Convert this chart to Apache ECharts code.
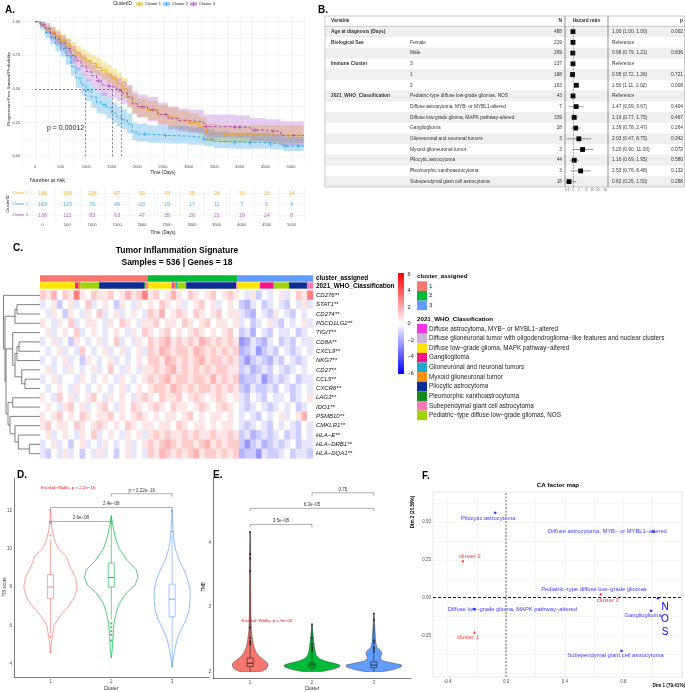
<!DOCTYPE html>
<html>
<head>
<meta charset="utf-8">
<title>Immune clusters</title>
<script src="https://cdn.jsdelivr.net/npm/echarts@6.0.0/dist/echarts.min.js"></script>
<style>
  html, body { margin: 0; padding: 0; background: #ffffff; }
  #chart { width: 685px; height: 692px; }
</style>
</head>
<body>
<div id="chart"></div>
<script>
var FONT = '"Liberation Sans", Arial, Helvetica, sans-serif';
var T = 'rgba(0,0,0,0)';

// ---- A. Kaplan-Meier curves ----
var kmTime1 = [0,100,200,300,400,500,600,700,800,900,1000,1100,1200,1300,1400,1500,1600,1700,1800,1900,2000,2200,2400,2600,2800,3000,3200,3350,3600,3900,5250];
var kmSurv1 = [1,0.98,0.95,0.92,0.89,0.86,0.83,0.79,0.76,0.73,0.71,0.69,0.66,0.64,0.61,0.58,0.54,0.50,0.44,0.39,0.36,0.34,0.31,0.29,0.27,0.25,0.22,0.17,0.16,0.155,0.155];
var kmLow1  = [1,0.96,0.92,0.88,0.85,0.81,0.78,0.74,0.70,0.67,0.65,0.62,0.60,0.57,0.54,0.51,0.47,0.43,0.37,0.32,0.29,0.27,0.24,0.22,0.20,0.18,0.16,0.11,0.10,0.10,0.09];
var kmHigh1 = [1,1,0.98,0.96,0.94,0.91,0.88,0.85,0.82,0.79,0.77,0.75,0.73,0.70,0.68,0.65,0.62,0.58,0.52,0.46,0.43,0.41,0.38,0.36,0.34,0.32,0.29,0.24,0.23,0.23,0.24];

var kmTime2 = [0,100,200,300,400,500,600,700,800,900,1000,1100,1200,1300,1400,1500,1600,1700,1800,1900,2000,2200,2600,3000,3300,3500,3800,4600,4850,5250];
var kmSurv2 = [1,0.97,0.92,0.88,0.84,0.80,0.75,0.67,0.58,0.53,0.49,0.44,0.40,0.385,0.36,0.32,0.29,0.27,0.24,0.18,0.165,0.155,0.15,0.14,0.125,0.11,0.10,0.09,0.075,0.075];
var kmLow2  = [1,0.94,0.88,0.83,0.78,0.74,0.68,0.60,0.51,0.45,0.41,0.36,0.32,0.31,0.28,0.25,0.22,0.20,0.17,0.12,0.11,0.10,0.095,0.085,0.075,0.06,0.055,0.05,0.04,0.04];
var kmHigh2 = [1,1,0.96,0.93,0.90,0.87,0.82,0.75,0.66,0.61,0.57,0.52,0.48,0.47,0.44,0.40,0.37,0.35,0.32,0.25,0.24,0.23,0.225,0.215,0.20,0.185,0.175,0.165,0.145,0.145];

var kmTime3 = [0,100,200,300,400,500,600,700,800,900,1000,1100,1200,1300,1400,1500,1600,1700,1800,1900,2000,2200,2400,2600,2800,3000,3300,3900,4200,4500,4800,5250];
var kmSurv3 = [1,0.98,0.95,0.91,0.87,0.84,0.80,0.75,0.71,0.67,0.63,0.60,0.56,0.53,0.52,0.51,0.49,0.47,0.44,0.39,0.37,0.345,0.31,0.28,0.265,0.255,0.22,0.215,0.195,0.185,0.155,0.155];
var kmLow3  = [1,0.96,0.91,0.86,0.82,0.78,0.74,0.69,0.64,0.60,0.56,0.52,0.48,0.45,0.44,0.43,0.41,0.39,0.36,0.31,0.29,0.26,0.23,0.20,0.185,0.175,0.14,0.135,0.115,0.105,0.08,0.08];
var kmHigh3 = [1,1,0.99,0.96,0.93,0.90,0.87,0.82,0.78,0.75,0.71,0.68,0.64,0.62,0.61,0.60,0.58,0.56,0.53,0.48,0.46,0.44,0.40,0.37,0.355,0.345,0.31,0.305,0.285,0.275,0.26,0.26];

var censor1 = [2100,2650,3050,3400,3700,4000,4300,4650,4950,5150];
var censor2 = [1350,2150,2550,3300,3450,3900,4200,4600,4900,5150];
var censor3 = [1250,1450,2100,2300,2550,3350,3900,4000,4300,4650,5050];
var medianDays = [1680, 990, 1516];
var clusterNames = ['Cluster 1', 'Cluster 2', 'Cluster 3'];

var riskTimes = [0,500,1000,1500,2000,2500,3000,3500,4000,4500,5000];
var riskCluster1 = [188,156,128,97,59,43,35,24,19,16,14];
var riskCluster2 = [163,125,79,46,23,19,17,11,7,6,4];
var riskCluster3 = [138,111,83,63,47,35,26,21,19,14,8];

// ---- B. Cox model ----
var forestGroup = ['Age at diagnosis (Days)','Biological Sex','','Immune Cluster','','','2021_WHO_Classification','','','','','','','',''];
var forestLevel = ['','Female','Male','3','1','2','Pediatric-type diffuse low-grade gliomas, NOS','Diffuse astrocytoma, MYB- or MYBL1-altered','Diffuse low-grade glioma, MAPK pathway-altered','Ganglioglioma','Glioneuronal and neuronal tumors','Myxoid glioneuronal tumor','Pilocytic astrocytoma','Pleomorphic xanthoastrocytoma','Subependymal giant cell astrocytoma'];
var forestN  = [488,219,269,137,188,163,43,7,339,28,3,3,44,3,18];
var forestHR = [1.00,1,0.98,1,0.95,1.50,1,1.47,1.16,1.39,2.03,3.20,1.16,2.53,0.62];
var forestLo = [1.00,null,0.79,null,0.72,1.11,null,0.59,0.77,0.78,0.47,0.90,0.69,0.76,0.25];
var forestHi = [1.00,null,1.21,null,1.26,2.02,null,3.67,1.75,2.47,8.75,11.33,1.95,8.48,1.50];
var forestP  = ['0.002','','0.836','','0.721','0.008','','0.404','0.467','0.264','0.342','0.072','0.580','0.132','0.288'];
var forestTicks = [0.5,1,2,5,10,20,50];

// ---- C. Heatmap ----
var geneNames = ['CD276**','STAT1**','CD274**','PDCD1LG2**','TIGIT**','CD8A**','CXCL9**','NKG7**','CD27**','CCL5**','CXCR6**','LAG3**','IDO1**','PSMB10**','CMKLR1**','HLA\u2212E**','HLA\u2212DRB1**','HLA\u2212DQA1**'];
// 48 column blocks: 19 (cluster 1) | 16 (cluster 2) | 13 (cluster 3)
var tisHeat = [
  [1.2,0.6,1.8,0,1.2, 0.6,3,0.6,0,1.2, 0.6,0.6,1.2,0,0.6, 1.8,0.6,1.2,3,  0.6,1.2,0,0.6,1.8, 0.6,0,1.2,0.6,0, 0.6,1.2,0,0.6,1.2, 0.6,  0,-0.6,0.6,-1.2,0, -0.6,0,0.6,-0.6,0, 1.2,0.6,3],
  [-0.6,0,0.6,-1.2,0, 0.6,-0.6,0,1.2,-0.6, 0,0.6,0,-1.2,0.6, 0,-0.6,0.6,0,  0.6,0,1.2,0.6,0, 0.6,-0.6,0,0.6,1.2, 0,0.6,-0.6,0,0.6, 0,  -1.2,-1.8,-0.6,0,-1.2, -0.6,0,-0.6,-1.2,0, -0.6,0.6,-0.6],
  [0,-0.6,0.6,0,-1.2, 0.6,0,-0.6,0.6,0, 1.2,-0.6,0,0.6,-0.6, 0,0.6,0,-0.6,  1.2,0.6,1.8,0,0.6, 1.2,0.6,0,1.2,0.6, 0,0.6,1.2,0,0.6, 0.6,  -0.6,-1.2,-1.8,0,-0.6, -1.2,0.6,0,-0.6,-1.2, 0,-0.6,0],
  [0.6,0,-0.6,0.6,0, 1.2,-0.6,0,0.6,0.6, 0,-0.6,0.6,0,1.2, 0.6,0,-0.6,0.6,  0.6,1.2,0,0.6,0.6, 0,1.2,0.6,0,0.6, 1.2,0,0.6,0.6,0, 0.6,  -0.6,0,-1.2,-0.6,0, 0.6,-0.6,-1.2,0,-0.6, 0,0.6,-0.6],
  [0,0.6,-0.6,0,0.6, 0,1.2,-0.6,0,0.6, 0,-0.6,0,0.6,0, -0.6,0.6,0,1.2,  0.6,0,0.6,1.2,0, 0.6,0,0.6,1.2,0.6, 0,0.6,0,0.6,1.2, 0,  -1.2,-0.6,-1.8,0,-0.6, -1.2,0,-0.6,-0.6,0, -1.2,-0.6,0],
  [-0.6,0,0.6,-0.6,0, -1.2,0.6,0,-0.6,0, 0.6,-0.6,0,1.2,-0.6, 0,-0.6,0.6,0,  1.2,0.6,1.2,1.8,0.6, 1.2,0.6,1.2,0.6,1.8, 1.2,0.6,1.2,0.6,1.2, 0.6,  -2.4,-1.8,-0.6,-1.2,-1.8, -0.6,0,-1.2,-0.6,-1.2, 0,-0.6,-0.6],
  [0,-0.6,0,0.6,-0.6, 0,-0.6,1.2,0,-0.6, 0,0.6,-0.6,0,0.6, -0.6,0,0.6,-0.6,  1.2,0.6,1.8,1.2,0.6, 1.2,1.2,0.6,1.8,1.2, 0.6,1.2,0.6,1.2,0.6, 1.2,  -1.8,-1.2,-0.6,-2.4,-1.2, -0.6,-1.2,0,-0.6,-1.2, -0.6,0,-0.6],
  [-0.6,0,-0.6,0,0.6, -0.6,0,-1.2,0.6,0, -0.6,0,0.6,-0.6,0, -0.6,0,0.6,0,  1.2,1.2,0.6,1.8,1.2, 0.6,1.2,0.6,1.2,1.8, 0.6,1.2,1.2,0.6,1.2, 0.6,  -1.2,-2.4,-1.2,-0.6,-1.2, -1.8,-0.6,-1.2,0,-0.6, -1.2,-0.6,0],
  [0,0.6,-0.6,0,-0.6, 0.6,0,-0.6,0,0.6, -0.6,0,1.2,0,-0.6, 0.6,0,-0.6,0.6,  0.6,1.2,0.6,1.2,1.8, 0.6,1.2,0.6,1.2,0.6, 1.2,0.6,1.2,1.2,0.6, 0.6,  -1.2,-0.6,-1.8,-1.2,-0.6, -1.2,0,-0.6,-1.2,-0.6, 0,-0.6,0],
  [-0.6,0,0.6,-0.6,0, 0,-0.6,0.6,0,-0.6, 0,0.6,0,-0.6,0.6, 0,-0.6,0,0.6,  1.2,0.6,1.2,1.8,0.6, 1.2,1.2,0.6,1.2,1.2, 0.6,1.8,0.6,1.2,0.6, 1.2,  -1.8,-1.2,-1.2,-0.6,-2.4, -1.2,-0.6,-1.2,-0.6,0, -1.2,-0.6,-0.6],
  [0,-0.6,0,0.6,0, -0.6,0.6,0,-0.6,0, 0.6,0,-0.6,0,0.6, -0.6,0,0.6,0,  0.6,1.2,1.2,0.6,1.8, 1.2,0.6,1.2,0.6,1.2, 1.2,0.6,1.2,0.6,1.2, 0.6,  -1.2,-1.8,-0.6,-1.2,-1.2, -0.6,-1.2,0,-0.6,-1.2, -0.6,0,-0.6],
  [0.6,0,-0.6,1.2,0, 0.6,-0.6,0,0.6,1.2, 0,-0.6,0.6,0,0.6, 0,-0.6,0.6,1.2,  0.6,0,1.2,0.6,0.6, 1.2,0,0.6,1.2,0.6, 0,0.6,1.2,0.6,0, 0.6,  -0.6,-1.2,0,-0.6,-1.2, 0,-0.6,-0.6,0,-1.2, -0.6,0,0.6],
  [0,0.6,0,-0.6,0.6, 1.2,0,0.6,-0.6,0, 0.6,1.2,0,-0.6,0.6, 0,1.2,0.6,0,  0.6,1.2,0.6,0,1.2, 0.6,0.6,0,0.6,1.2, 0.6,0,0.6,1.2,0.6, 0,  -0.6,-1.2,-0.6,0,-0.6, -1.2,-0.6,0,-0.6,0, -1.2,-0.6,0],
  [0.6,0,0.6,1.2,0, 0.6,0,1.2,0.6,0, 0.6,0.6,1.2,0,0.6, 0,0.6,1.2,0.6,  0,0.6,0,0.6,0.6, 0,0.6,1.2,0,0.6, 0,0.6,0.6,0,0.6, 0,  -0.6,0,-0.6,-1.2,0, -0.6,0,0.6,-0.6,0, 0.6,1.8,0],
  [0.6,1.2,0,0.6,0.6, 0,1.2,0.6,0,0.6, 1.2,0.6,0,0.6,0, 1.2,0.6,0,0.6,  0.6,0,0.6,0.6,0, 1.2,0.6,0,0.6,0.6, 0,0.6,0,0.6,0.6, 0,  -0.6,-1.2,-0.6,0,-0.6, -1.2,0,-0.6,0,-0.6, -1.2,0,-0.6],
  [0,0.6,-0.6,0,0.6, 0,-0.6,0.6,0,1.2, -0.6,0,0.6,0,-0.6, 0.6,0,0.6,-0.6,  0.6,1.2,0.6,1.2,0.6, 0.6,1.2,0.6,1.2,0.6, 0.6,1.2,0.6,0.6,1.2, 0.6,  -1.2,-0.6,-1.8,-1.2,-0.6, -1.2,-0.6,0,-1.2,-0.6, -1.2,0,-0.6],
  [-0.6,0,0.6,-0.6,0, -1.2,0,0.6,-0.6,0, -0.6,0.6,0,-0.6,0, 0.6,-0.6,0,0.6,  1.2,0.6,1.2,1.8,1.2, 0.6,1.2,1.2,0.6,1.2, 1.8,0.6,1.2,0.6,1.2, 1.2,  -1.2,-2.4,-1.2,-0.6,-1.8, -1.2,-0.6,-1.2,-0.6,0, -1.2,-0.6,-0.6],
  [-0.6,-1.2,0,-0.6,0.6, -0.6,0,-1.2,0,-0.6, 0.6,-0.6,0,-1.2,0, 0.6,-0.6,0,-0.6,  1.2,0.6,1.8,1.2,0.6, 1.2,0.6,1.2,1.8,0.6, 1.2,1.2,0.6,1.2,0.6, 1.2,  -1.8,-1.2,-1.2,-2.4,-0.6, -1.2,-1.2,-0.6,0,-1.2, -0.6,-0.6,-1.2]
];
// row clustering: [child a, child b, merge height]; leaves 0..17, merged nodes 18+
var dendroMerges = [[9,10,15],[8,18,18.3],[5,6,21],[20,7,23],[21,19,25],[4,22,27.3],[16,17,10.7],[15,24,21.7],[14,25,25],[13,26,30],[11,12,27.3],[28,27,32],[23,29,34],[1,2,23],[31,3,25],[32,30,35],[0,33,36.5]];
var clusterSizes = [212,175,149];
var whoNames = ['Diffuse astrocytoma, MYB\u2212 or MYBL1\u2212altered','Diffuse glioneuronal tumor with oligodendroglioma\u2212like features and nuclear clusters','Diffuse low\u2212grade glioma, MAPK pathway\u2212altered','Ganglioglioma','Glioneuronal and neuronal tumors','Myxoid glioneuronal tumor','Pilocytic astrocytoma','Pleomorphic xanthoastrocytoma','Subependymal giant cell astrocytoma','Pediatric\u2212type diffuse low\u2212grade gliomas, NOS'];
var whoColors = ['#F534E1','#C8B6D8','#FFE500','#F5168A','#1CAAD0','#FF8E0A','#0C2D94','#138A1C','#FF76B6','#A2D20A'];
// WHO annotation along the samples: [class index, count]
var whoSegments = [[2,69],[3,6],[5,2],[0,2],[9,37],[6,88],[7,2],[8,6],
                   [2,47],[0,4],[5,4],[4,2],[9,18],[6,98],[8,2],
                   [2,45],[3,26],[4,2],[9,29],[6,35],[8,12]];
var heatTicks = [6,4,2,0,-2,-4,-6];

// ---- D. TIS score violins: [value, half width in axis units] ----
var tisViolin1 = [[4.6,0],[5.0,0.01],[5.4,0.03],[6.0,0.06],[6.5,0.16],[7.0,0.30],[7.5,0.40],[8.0,0.44],[8.5,0.41],[9.0,0.33],[9.6,0.26],[10.0,0.13],[10.45,0.066],[10.96,0.028],[11.5,0.011],[12.0,0]];
var tisViolin2 = [[4.3,0],[4.75,0.016],[5.4,0.028],[6.1,0.044],[6.65,0.08],[7.15,0.13],[7.7,0.25],[8.1,0.39],[8.5,0.44],[8.9,0.41],[9.4,0.26],[10.0,0.13],[10.6,0.066],[11.3,0.021],[11.74,0]];
var tisViolin3 = [[3.8,0],[4.2,0.016],[4.74,0.044],[5.26,0.082],[5.8,0.15],[6.3,0.23],[6.8,0.28],[7.33,0.295],[7.85,0.295],[8.45,0.25],[9.0,0.18],[9.4,0.115],[10.0,0.054],[10.45,0.033],[11.0,0.016],[12.0,0]];
// [cluster, q1, median, q3, whisker low, whisker high]
var tisBoxes = [[1,7.4,8.0,8.65,5.6,10.5],[2,8.0,8.5,9.25,6.3,11.7],[3,6.45,7.37,8.15,3.8,10.7]];
var tisOutliers = [[1,10.7],[1,11.4],[1,12.0],[1,5.4],[1,4.6],[2,6.1],[2,5.9],[2,5.7],[2,5.5],[2,5.2],[3,10.9],[3,12.0]];
var tisBrackets = [[1,2,11.43],[1,3,12.16],[2,3,12.88]];
var tisBracketText = ['2.6e\u221208','2.4e\u221208','p < 2.22e\u221216'];

// ---- E. TMB violins ----
var tmbViolin1 = [[2.0,0.17],[2.04,0.26],[2.09,0.29],[2.13,0.28],[2.18,0.22],[2.23,0.15],[2.29,0.1],[2.36,0.07],[2.43,0.05],[2.52,0.035],[2.65,0.02],[2.9,0.012],[3.4,0.008],[3.9,0.006],[4.16,0]];
var tmbViolin2 = [[2.0,0.16],[2.03,0.32],[2.07,0.44],[2.1,0.45],[2.13,0.36],[2.16,0.22],[2.2,0.12],[2.25,0.07],[2.32,0.05],[2.42,0.035],[2.55,0.02],[2.65,0.01],[2.73,0]];
var tmbViolin3 = [[2.0,0.15],[2.03,0.32],[2.07,0.44],[2.1,0.45],[2.13,0.32],[2.16,0.16],[2.2,0.1],[2.25,0.12],[2.29,0.13],[2.33,0.1],[2.37,0.05],[2.45,0.03],[2.6,0.02],[2.75,0.01],[2.9,0]];
var tmbBoxes = [[1,2.08,2.13,2.21,2.0,4.16],[2,2.06,2.1,2.13,2.0,2.73],[3,2.06,2.1,2.15,2.0,2.9]];
var tmbOutliers = [[1,4.16],[1,3.82],[1,3.75],[1,3.56],[1,2.68],[1,2.52],[1,2.47],[1,2.45],[1,2.42],
                   [2,2.73],[2,2.52],[2,2.42],[2,2.38],[2,2.35],[2,2.32],
                   [3,2.9],[3,2.8],[3,2.48],[3,2.45],[3,2.38],[3,2.35],[3,2.31]];
var tmbBrackets = [[1,2,4.28],[1,3,4.53],[2,3,4.77]];
var tmbBracketText = ['3.5e\u221205','6.3e\u221205','0.75'];

// ---- F. CA factor map ----
var caColNames = ['Pilocytic astrocytoma','Diffuse astrocytoma, MYB\u2212 or MYBL1\u2212altered','Pediatric\u2212type diffuse low\u2212grade gliomas','Diffuse low\u2212grade glioma, MAPK pathway\u2212altered','Ganglioglioma','Subependymal giant cell astrocytoma'];
var caColDim1 = [-0.075,1.005,1.036,-0.217,0.989,0.787];
var caColDim2 = [0.563,0.437,-0.004,-0.075,-0.086,-0.353];
var caRowNames = ['cluster 2','cluster 3','cluster 1'];
var caRowDim1 = [-0.296,0.645,-0.217];
var caRowDim2 = [0.245,0.025,-0.229];

// ---------------------------------------------------------------
var kmTimes = [kmTime1, kmTime2, kmTime3];
var kmSurvs = [kmSurv1, kmSurv2, kmSurv3];
var kmLows = [kmLow1, kmLow2, kmLow3];
var kmHighs = [kmHigh1, kmHigh2, kmHigh3];
var censors = [censor1, censor2, censor3];
var riskCounts = [riskCluster1, riskCluster2, riskCluster3];
var kmColors = ['#EFA31B', '#25A6E3', '#A745B8'];
var bandColors = ['rgba(231,184,0,0.32)', 'rgba(46,159,223,0.32)', 'rgba(170,80,200,0.28)'];
var clusterColors = ['#F8766D', '#00BA38', '#619CFF'];
var plusPath = 'path://M4,0H6V4H10V6H6V10H4V6H0V4H4Z';

function lg(v) { return Math.log(v) / Math.LN10; }
function kmAt(times, surv, t) {
  var s = surv[0];
  for (var i = 0; i < times.length; i++) { if (times[i] <= t) s = surv[i]; }
  return s;
}
function near(v, step) { return Math.abs(v / step - Math.round(v / step)) < 1e-6; }
function tiny(v) { return Math.abs(v) < 1e-9 ? 0 : v; }

var series = [];

// A: bands, curves, censor marks
[0, 1, 2].forEach(function (k) {
  var t = kmTimes[k], lo = kmLows[k], hi = kmHighs[k];
  series.push({
    type: 'custom', xAxisIndex: 0, yAxisIndex: 0, data: [[0, 0.5]], silent: true, z: 1, clip: true,
    renderItem: function (params, api) {
      var pts = [], n = t.length, i, tn;
      for (i = 0; i < n; i++) { tn = i < n - 1 ? t[i + 1] : t[i]; pts.push(api.coord([t[i], hi[i]]), api.coord([tn, hi[i]])); }
      for (i = n - 1; i >= 0; i--) { tn = i < n - 1 ? t[i + 1] : t[i]; pts.push(api.coord([tn, lo[i]]), api.coord([t[i], lo[i]])); }
      return { type: 'polygon', shape: { points: pts }, style: { fill: bandColors[k] } };
    }
  });
});
var medLines = [[{ coord: [0, 0.5] }, { coord: [Math.max.apply(null, medianDays), 0.5] }]];
medianDays.forEach(function (m) { medLines.push([{ coord: [m, 0] }, { coord: [m, 0.5] }]); });
[0, 1, 2].forEach(function (k) {
  series.push({
    type: 'line', xAxisIndex: 0, yAxisIndex: 0, step: 'end', showSymbol: false, silent: true, z: 3,
    data: kmTimes[k].map(function (t, i) { return [t, kmSurvs[k][i]]; }),
    lineStyle: { color: kmColors[k], width: 0.9, type: k === 0 ? 'solid' : [3, 2] },
    markLine: k === 0 ? { silent: true, symbol: ['none', 'none'], label: { show: false },
      lineStyle: { color: '#333', type: [2, 2], width: 0.6 }, data: medLines } : undefined
  });
  series.push({
    type: 'scatter', xAxisIndex: 0, yAxisIndex: 0, silent: true, z: 4, symbol: plusPath, symbolSize: 4,
    itemStyle: { color: kmColors[k] },
    data: censors[k].map(function (t) { return [t, kmAt(kmTimes[k], kmSurvs[k], t)]; })
  });
});
// A: number at risk
riskCounts.forEach(function (arr, k) {
  series.push({
    type: 'scatter', xAxisIndex: 1, yAxisIndex: 1, silent: true, symbolSize: 1, itemStyle: { color: T },
    data: riskTimes.map(function (t, i) { return [t, k + 1, arr[i]]; }),
    label: { show: true, position: 'inside', formatter: function (p) { return p.value[2]; },
      color: kmColors[k], fontSize: 5.5, fontFamily: FONT }
  });
});

// B: forest marks
series.push({
  type: 'custom', xAxisIndex: 2, yAxisIndex: 2, silent: true, z: 3,
  data: forestHR.map(function (h, i) {
    return [lg(h), i, forestLo[i] == null ? lg(h) : lg(forestLo[i]), forestHi[i] == null ? lg(h) : lg(forestHi[i])];
  }),
  encode: { x: 0, y: 1 },
  renderItem: function (params, api) {
    var row = params.dataIndex;
    var c = api.coord([api.value(0), row]);
    var a = api.coord([Math.max(api.value(2), -0.36), row]), b = api.coord([api.value(3), row]);
    var kids = [];
    if (b[0] - a[0] > 0.5) {
      kids.push({ type: 'line', shape: { x1: a[0], y1: a[1], x2: b[0], y2: b[1] }, style: { stroke: '#333', lineWidth: 0.5 } });
      if (api.value(2) < -0.36) {
        kids.push({ type: 'polyline', shape: { points: [[a[0] + 1.8, a[1] - 1.2], [a[0], a[1]], [a[0] + 1.8, a[1] + 1.2]] }, style: { stroke: '#333', fill: 'none', lineWidth: 0.5 } });
      }
    }
    kids.push({ type: 'rect', shape: { x: c[0] - 2.4, y: c[1] - 2.4, width: 4.8, height: 4.8 }, style: { fill: '#000' } });
    return { type: 'group', children: kids };
  },
  markLine: { silent: true, symbol: ['none', 'none'], label: { show: false },
    lineStyle: { color: '#555', type: [1.5, 1.5], width: 0.6 }, data: [{ xAxis: 0 }] }
});

// C: annotation bars
var annotData = [], pos = 0;
clusterSizes.forEach(function (n, k) { annotData.push([pos, pos + n, 0, k]); pos += n; });
pos = 0;
whoSegments.forEach(function (s) { annotData.push([pos, pos + s[1], 1, s[0]]); pos += s[1]; });
series.push({
  type: 'custom', xAxisIndex: 3, yAxisIndex: 3, silent: true, data: annotData, encode: { x: [0, 1], y: 2 },
  renderItem: function (params, api) {
    var row = api.value(2), cat = api.value(3);
    var s = api.coord([api.value(0), row]), e = api.coord([api.value(1), row]);
    var h = api.size([0, 1])[1];
    return { type: 'rect', shape: { x: s[0], y: s[1] - h * 0.45, width: e[0] - s[0] + 0.2, height: h * 0.9 },
      style: { fill: row === 0 ? clusterColors[cat] : whoColors[cat] } };
  }
});
// C: heatmap
var heatData = [];
tisHeat.forEach(function (row, r) { row.forEach(function (v, c) { heatData.push([c, r, v]); }); });
var heatSeriesIndex = series.length;
series.push({ type: 'heatmap', xAxisIndex: 4, yAxisIndex: 4, data: heatData, silent: true, progressive: 0,
  itemStyle: { borderWidth: 0 }, emphasis: { disabled: true } });
// C: dendrogram
var nodeY = [], nodeH = [];
geneNames.forEach(function (g, i) { nodeY.push(i + 0.5); nodeH.push(0); });
dendroMerges.forEach(function (m) { nodeY.push((nodeY[m[0]] + nodeY[m[1]]) / 2); nodeH.push(m[2]); });
series.push({
  type: 'custom', xAxisIndex: 5, yAxisIndex: 5, silent: true,
  data: dendroMerges.map(function (m, i) { return [m[2], nodeY[geneNames.length + i]]; }),
  renderItem: function (params, api) {
    var m = dendroMerges[params.dataIndex], a = m[0], b = m[1], h = m[2];
    var pts = [api.coord([nodeH[a], nodeY[a]]), api.coord([h, nodeY[a]]), api.coord([h, nodeY[b]]), api.coord([nodeH[b], nodeY[b]])];
    return { type: 'polyline', shape: { points: pts }, style: { stroke: '#4a4a4a', lineWidth: 0.7, fill: 'none' } };
  }
});

// D / E helpers
function violinSeries(ax, profiles, fills, strokes, lw) {
  return {
    type: 'custom', xAxisIndex: ax, yAxisIndex: ax, silent: true, z: 2,
    data: profiles.map(function (p, k) { return [k + 1, p[0][0]]; }),
    renderItem: function (params, api) {
      var k = params.dataIndex, prof = profiles[k], cx = k + 1, pts = [], i;
      for (i = 0; i < prof.length; i++) pts.push(api.coord([cx + prof[i][1], prof[i][0]]));
      for (i = prof.length - 1; i >= 0; i--) pts.push(api.coord([cx - prof[i][1], prof[i][0]]));
      return { type: 'polygon', shape: { points: pts }, style: { fill: fills ? fills[k] : 'none', stroke: strokes[k], lineWidth: lw } };
    }
  };
}
function boxSeries(ax, boxes, strokes, hw) {
  return {
    type: 'custom', xAxisIndex: ax, yAxisIndex: ax, silent: true, z: 3, data: boxes, encode: { x: 0, y: 2 },
    renderItem: function (params, api) {
      var x = api.value(0), q1 = api.value(1), md = api.value(2), q3 = api.value(3), lo = api.value(4), hi = api.value(5);
      var st = { stroke: strokes[params.dataIndex], lineWidth: 0.6, fill: 'none' };
      var pLo = api.coord([x, lo]), pQ1 = api.coord([x, q1]), pQ3 = api.coord([x, q3]), pHi = api.coord([x, hi]);
      var tl = api.coord([x - hw, q3]), br = api.coord([x + hw, q1]);
      var ml = api.coord([x - hw, md]), mr = api.coord([x + hw, md]);
      return { type: 'group', children: [
        { type: 'line', shape: { x1: pLo[0], y1: pLo[1], x2: pQ1[0], y2: pQ1[1] }, style: st },
        { type: 'line', shape: { x1: pQ3[0], y1: pQ3[1], x2: pHi[0], y2: pHi[1] }, style: st },
        { type: 'rect', shape: { x: tl[0], y: tl[1], width: br[0] - tl[0], height: br[1] - tl[1] }, style: st },
        { type: 'line', shape: { x1: ml[0], y1: ml[1], x2: mr[0], y2: mr[1] }, style: { stroke: strokes[params.dataIndex], lineWidth: 0.9 } }
      ] };
    }
  };
}
function bracketSeries(ax, brackets, labels) {
  return {
    type: 'custom', xAxisIndex: ax, yAxisIndex: ax, silent: true, z: 5, data: brackets, encode: { x: 0, y: 2 },
    renderItem: function (params, api) {
      var y = api.value(2), p1 = api.coord([api.value(0), y]), p2 = api.coord([api.value(1), y]);
      return { type: 'group', children: [
        { type: 'polyline', shape: { points: [[p1[0], p1[1] + 3], [p1[0], p1[1]], [p2[0], p2[1]], [p2[0], p2[1] + 3]] },
          style: { stroke: '#777', lineWidth: 0.6, fill: 'none' } },
        { type: 'text', x: (p1[0] + p2[0]) / 2, y: p1[1] - 0.8,
          style: { text: labels[params.dataIndex], fontSize: 4.5, fontFamily: FONT, fill: '#333', align: 'center', verticalAlign: 'bottom', textAlign: 'center', textVerticalAlign: 'bottom' } }
      ] };
    }
  };
}

// D
series.push(violinSeries(6, [tisViolin1, tisViolin2, tisViolin3], null, clusterColors, 0.7));
series.push(boxSeries(6, tisBoxes, clusterColors, 0.05));
series.push({ type: 'scatter', xAxisIndex: 6, yAxisIndex: 6, silent: true, z: 4, symbolSize: 2.2, data: tisOutliers,
  itemStyle: { color: function (p) { return clusterColors[p.data[0] - 1]; } } });
series.push(bracketSeries(6, tisBrackets, tisBracketText));
// E
series.push(violinSeries(7, [tmbViolin1, tmbViolin2, tmbViolin3], clusterColors, ['#222', '#222', '#222'], 0.4));
series.push(boxSeries(7, tmbBoxes, ['#222', '#222', '#222'], 0.05));
series.push({ type: 'scatter', xAxisIndex: 7, yAxisIndex: 7, silent: true, z: 4, symbolSize: 2.2, data: tmbOutliers,
  itemStyle: { color: '#222', opacity: 0.8 } });
series.push(bracketSeries(7, tmbBrackets, tmbBracketText));

// F
var caNudge = {
  'Pilocytic astrocytoma': [-7, 5.5], 'Diffuse astrocytoma, MYB\u2212 or MYBL1\u2212altered': [-46, 0],
  'Pediatric\u2212type diffuse low\u2212grade gliomas': [-64, -9], 'Diffuse low\u2212grade glioma, MAPK pathway\u2212altered': [38, 0],
  'Ganglioglioma': [-8, 5], 'Subependymal giant cell astrocytoma': [-6, 4.7],
  'cluster 2': [7, -4], 'cluster 3': [7, 6.7], 'cluster 1': [-6.5, 5.4]
};
function caItems(names, d1, d2) {
  return names.map(function (n, i) { return { name: n, value: [d1[i], d2[i]], label: { offset: caNudge[n] || [0, 0] } }; });
}
series.push({
  type: 'scatter', xAxisIndex: 8, yAxisIndex: 8, silent: true, z: 4, symbol: 'circle', symbolSize: 2.6,
  itemStyle: { color: '#0000FF' }, data: caItems(caColNames, caColDim1, caColDim2),
  label: { show: true, position: 'inside', formatter: '{b}', color: '#0000FF', fontSize: 5.8, fontFamily: FONT },
  markLine: { silent: true, symbol: ['none', 'none'], label: { show: false }, data: [
    { xAxis: 0, lineStyle: { color: '#9e9e9e', type: [2, 1.5], width: 1.6 } },
    { yAxis: 0, lineStyle: { color: '#000', type: [3, 2], width: 0.9 } } ] }
});
series.push({
  type: 'scatter', xAxisIndex: 8, yAxisIndex: 8, silent: true, z: 4, symbol: 'triangle', symbolSize: 3,
  itemStyle: { color: '#FF0000' }, data: caItems(caRowNames, caRowDim1, caRowDim2),
  label: { show: true, position: 'inside', formatter: '{b}', color: '#FF0000', fontSize: 5.8, fontFamily: FONT }
});

// ---------------- axes ----------------
var axLabel = { fontSize: 4, color: '#4d4d4d', margin: 2, fontFamily: FONT };
function lab(fmt, extra) { return Object.assign({}, axLabel, { formatter: fmt }, extra || {}); }
var fmtDays = function (v) { return (v >= 0 && near(v, 500)) ? String(Math.round(v)) : ''; };
var noLine = { show: false }, noTick = { show: false };
var classicLine = { show: true, onZero: false, lineStyle: { color: '#444', width: 0.7 } };

var xAxes = [
  { gridIndex: 0, type: 'value', min: -250, max: 5250, interval: 250, axisLine: noLine, axisTick: noTick,
    axisLabel: lab(fmtDays), splitLine: { lineStyle: { color: '#ebebeb', width: 0.5 } } },
  { gridIndex: 1, type: 'value', min: -250, max: 5250, interval: 250, axisLine: noLine, axisTick: noTick,
    axisLabel: lab(fmtDays), splitLine: { lineStyle: { color: '#ebebeb', width: 0.5 } } },
  { gridIndex: 2, type: 'value', min: -0.42, max: 1.84, axisLine: noLine,
    axisTick: { show: true, length: 1.5, customValues: forestTicks.map(lg), lineStyle: { color: '#888', width: 0.4 } },
    axisLabel: { customValues: forestTicks.map(lg), fontSize: 3.4, color: '#666', margin: 1.5, fontFamily: FONT,
      formatter: function (v) { return String(Math.round(Math.pow(10, v) * 10) / 10); } },
    splitLine: { show: false } },
  { gridIndex: 3, type: 'value', min: 0, max: 536, show: false },
  { gridIndex: 4, type: 'category', data: tisHeat[0].map(function (v, i) { return String(i); }), show: false },
  { gridIndex: 5, type: 'value', min: 0, max: 37, inverse: true, show: false },
  { gridIndex: 6, type: 'value', min: 0.4, max: 3.6, interval: 0.2, axisLine: classicLine, axisTick: noTick,
    axisLabel: lab(function (v) { return near(v, 1) ? String(Math.round(v)) : ''; }, { fontSize: 4.5 }), splitLine: { show: false } },
  { gridIndex: 7, type: 'value', min: 0.4, max: 3.6, interval: 0.2, axisLine: classicLine, axisTick: noTick,
    axisLabel: lab(function (v) { return near(v, 1) ? String(Math.round(v)) : ''; }, { fontSize: 4.5 }), splitLine: { show: false } },
  { gridIndex: 8, type: 'value', min: -0.5, max: 1.2, interval: 0.1, axisLine: noLine, axisTick: noTick,
    axisLabel: lab(function (v) { return (near(v, 0.4) && v < 1) ? tiny(v).toFixed(1) : ''; }, { fontSize: 4.5 }),
    splitLine: { lineStyle: { color: [T, '#ebebeb'], width: 0.5 } } }
];
var yAxes = [
  { gridIndex: 0, type: 'value', min: -0.05, max: 1.05, interval: 0.025, axisLine: noLine, axisTick: noTick,
    axisLabel: lab(function (v) { return (v > -1e-6 && near(v, 0.25)) ? tiny(v).toFixed(2) : ''; }),
    splitLine: { lineStyle: { color: [T, T, '#ebebeb', T, T], width: 0.5 } } },
  { gridIndex: 1, type: 'value', min: 0.5, max: 3.5, interval: 0.5, inverse: true, axisLine: noLine, axisTick: noTick,
    axisLabel: lab(function (v) { return near(v, 1) ? clusterNames[Math.round(v) - 1] : ''; },
      { color: function (v) { return kmColors[Math.round(parseFloat(v)) - 1] || '#000'; }, fontSize: 4 }),
    splitLine: { lineStyle: { color: [T, '#ebebeb'], width: 0.5 } } },
  { gridIndex: 2, type: 'category', data: forestHR.map(function (v, i) { return String(i); }), inverse: true, show: false },
  { gridIndex: 3, type: 'category', data: ['cluster', 'who'], inverse: true, show: false },
  { gridIndex: 4, type: 'category', data: geneNames, inverse: true, position: 'right', axisLine: noLine, axisTick: noTick,
    axisLabel: { interval: 0, fontSize: 6, fontStyle: 'italic', color: '#111', margin: 3, fontFamily: FONT } },
  { gridIndex: 5, type: 'value', min: 0, max: 18, inverse: true, show: false },
  { gridIndex: 6, type: 'value', min: 3.3, max: 13.7, interval: 0.1, axisLine: classicLine, axisTick: noTick,
    axisLabel: lab(function (v) { var r = Math.round(v); return (near(v, 1) && r % 2 === 0 && r >= 4 && r <= 12) ? String(r) : ''; }, { fontSize: 4.5 }),
    splitLine: { show: false } },
  { gridIndex: 7, type: 'value', min: 1.9, max: 5.0, interval: 0.1, axisLine: classicLine, axisTick: noTick,
    axisLabel: lab(function (v) { var r = Math.round(v); return (near(v, 1) && r >= 2 && r <= 4) ? String(r) : ''; }, { fontSize: 4.5 }),
    splitLine: { show: false } },
  { gridIndex: 8, type: 'value', min: -0.525, max: 0.7, interval: 0.025, axisLine: noLine, axisTick: noTick,
    axisLabel: lab(function (v) { return (near(v, 0.25) && v > -0.26 && v < 0.51) ? tiny(v).toFixed(2) : ''; }, { fontSize: 4.5 }),
    splitLine: { lineStyle: { color: [T, '#ebebeb', T, T, T], width: 0.5 } } }
];

// ---------------- text / legends ----------------
var G = [];
function txt(x, y, s, o) {
  var st = Object.assign({ text: s, fontFamily: FONT, fontSize: 5, fill: '#222', align: 'left', verticalAlign: 'middle' }, o || {});
  st.textAlign = st.align; st.textVerticalAlign = st.verticalAlign;
  return { type: 'text', x: x, y: y, silent: true, z: 10, style: st };
}
function vtxt(x, y, s, o) {
  var e = txt(x, y, s, Object.assign({ align: 'center' }, o || {}));
  e.rotation = Math.PI / 2;
  return e;
}
// panel letters
[['A.', 5, 10], ['B.', 318, 10], ['C.', 13, 248], ['D.', 17, 475], ['E.', 213, 475], ['F.', 422, 476]].forEach(function (p) {
  G.push(txt(p[1], p[2], p[0], { fontSize: 10, fontWeight: 'bold', fill: '#000' }));
});
// A legend + titles
G.push(txt(113, 4, 'ClusterID', { fontSize: 4.5 }));
clusterNames.forEach(function (n, k) {
  var x0 = 136 + 27 * k;
  G.push({ type: 'rect', silent: true, shape: { x: x0, y: 1.5, width: 7, height: 5 }, style: { fill: bandColors[k] } });
  G.push({ type: 'line', silent: true, shape: { x1: x0, y1: 4, x2: x0 + 7, y2: 4 }, style: { stroke: kmColors[k], lineWidth: 0.8 } });
  G.push({ type: 'line', silent: true, shape: { x1: x0 + 3.5, y1: 2, x2: x0 + 3.5, y2: 6 }, style: { stroke: kmColors[k], lineWidth: 0.8 } });
  G.push(txt(x0 + 9, 4, n, { fontSize: 4 }));
});
G.push(vtxt(9, 89, 'Progression\u2212Free Survival Probability', { fontSize: 4.4 }));
G.push(txt(163, 172.5, 'Time (Days)', { fontSize: 4.6, align: 'center' }));
G.push(txt(47, 128, 'p = 0.00012', { fontSize: 7 }));
G.push(txt(30, 181, 'Number at risk', { fontSize: 5.4 }));
G.push(vtxt(8, 204, 'ClusterID', { fontSize: 4.2 }));
G.push(txt(163, 232.5, 'Time (Days)', { fontSize: 4.6, align: 'center' }));

// B table
var rowTop = 26.3, rowH = 10.71;
forestHR.forEach(function (h, i) {
  if (i % 2 === 0) G.push({ type: 'rect', silent: true, z: 0, shape: { x: 325, y: rowTop + i * rowH, width: 360, height: rowH }, style: { fill: '#efefef' } });
});
G.push({ type: 'rect', silent: true, z: 1, shape: { x: 325, y: 16, width: 359.5, height: 171 }, style: { fill: 'none', stroke: '#aaa', lineWidth: 0.6 } });
G.push({ type: 'line', silent: true, z: 1, shape: { x1: 325, y1: 26.3, x2: 685, y2: 26.3 }, style: { stroke: '#aaa', lineWidth: 0.6 } });
[565, 608].forEach(function (x) {
  G.push({ type: 'line', silent: true, z: 1, shape: { x1: x, y1: 16, x2: x, y2: 187 }, style: { stroke: '#666', lineWidth: 0.7 } });
});
var fs = 4.8, tc = '#333';
G.push(txt(331, 21, 'Variable', { fontSize: fs, fontWeight: 'bold', fill: tc }));
G.push(txt(562, 21, 'N', { fontSize: fs, fontWeight: 'bold', fill: tc, align: 'right' }));
G.push(txt(586.5, 21, 'Hazard ratio', { fontSize: fs, fontWeight: 'bold', fill: tc, align: 'center' }));
G.push(txt(683, 21, 'p', { fontSize: fs, fontWeight: 'bold', fill: tc, align: 'right' }));
forestHR.forEach(function (h, i) {
  var y = rowTop + (i + 0.5) * rowH;
  if (forestGroup[i]) G.push(txt(331, y, forestGroup[i], { fontSize: fs, fontWeight: 'bold', fill: tc }));
  if (forestLevel[i]) G.push(txt(410, y, forestLevel[i], { fontSize: fs, fill: tc }));
  G.push(txt(562, y, String(forestN[i]), { fontSize: fs, fill: tc, align: 'right' }));
  var hrText = forestLo[i] == null ? 'Reference' :
    h.toFixed(2) + ' (' + forestLo[i].toFixed(2) + ', ' + forestHi[i].toFixed(2) + ')';
  G.push(txt(612, y, hrText, { fontSize: fs, fill: tc }));
  if (forestP[i]) G.push(txt(683, y, forestP[i], { fontSize: fs, fill: tc, align: 'right' }));
});

// C titles, annotation labels, legends
G.push(txt(177, 251, 'Tumor Inflammation Signature', { fontSize: 8.5, fontWeight: 'bold', fill: '#000', align: 'center' }));
G.push(txt(177, 262.5, 'Samples = 536 | Genes = 18', { fontSize: 8.5, fontWeight: 'bold', fill: '#000', align: 'center' }));
G.push(txt(316, 278.5, 'cluster_assigned', { fontSize: 6.4, fontWeight: 'bold', fill: '#000' }));
G.push(txt(316, 285.8, '2021_WHO_Classification', { fontSize: 6.4, fontWeight: 'bold', fill: '#000' }));
G.push({ type: 'rect', silent: true, shape: { x: 398, y: 273, width: 6, height: 101 },
  style: { fill: new echarts.graphic.LinearGradient(0, 0, 0, 1, [
    { offset: 0, color: '#FF0000' }, { offset: 0.5, color: '#FFFFFF' }, { offset: 1, color: '#0000FF' }]) } });
heatTicks.forEach(function (v, i) {
  G.push(txt(407.5, 274 + i * 16.55, v < 0 ? '\u2212' + Math.abs(v) : String(v), { fontSize: 5.6, fill: '#222' }));
});
G.push(txt(417, 276, 'cluster_assigned', { fontSize: 6.2, fontWeight: 'bold', fill: '#000' }));
clusterColors.forEach(function (c, k) {
  G.push({ type: 'rect', silent: true, shape: { x: 417, y: 281.3 + k * 9.6, width: 10, height: 9.6 }, style: { fill: c } });
  G.push(txt(429, 286.1 + k * 9.6, String(k + 1), { fontSize: 6.2, fill: '#222' }));
});
G.push(txt(417, 319, '2021_WHO_Classification', { fontSize: 6.2, fontWeight: 'bold', fill: '#000' }));
whoNames.forEach(function (n, k) {
  G.push({ type: 'rect', silent: true, shape: { x: 417, y: 324 + k * 9.62, width: 10, height: 9.62 }, style: { fill: whoColors[k] } });
  G.push(txt(429, 328.8 + k * 9.62, n, { fontSize: 6.3, fill: '#222' }));
});

// D / E titles
G.push(txt(68, 488, 'Kruskal\u2212Wallis, p < 2.2e\u221216', { fontSize: 4.4, fill: '#FF0000', align: 'center' }));
G.push(vtxt(5, 587, 'TIS score', { fontSize: 4.6 }));
G.push(txt(111, 688.5, 'Cluster', { fontSize: 4.6, align: 'center' }));
G.push(txt(267, 621, 'Kruskal\u2212Wallis, p = 9e\u221206', { fontSize: 4.4, fill: '#FF0000', align: 'center' }));
G.push(vtxt(204, 587, 'TMB', { fontSize: 4.6 }));
G.push(txt(312, 688.5, 'Cluster', { fontSize: 4.6, align: 'center' }));

// F titles
G.push(txt(558, 485, 'CA factor map', { fontSize: 6.2, fontWeight: 'bold', fill: '#000', align: 'center' }));
G.push(vtxt(413, 512, 'Dim 2 (20.59%)', { fontSize: 4.6, fontWeight: 'bold', fill: '#000' }));
G.push(txt(685, 685.5, 'Dim 1 (79.41%)', { fontSize: 4.6, fontWeight: 'bold', fill: '#000', align: 'right' }));
G.push(txt(665, 619.5, 'N\nO\nS', { fontSize: 10, fill: '#0000FF', align: 'center', lineHeight: 12.5 }));

var option = {
  animation: false,
  backgroundColor: '#ffffff',
  textStyle: { fontFamily: FONT },
  grid: [
    { left: 22.2, top: 15, width: 281.6, height: 148 },
    { left: 30, top: 187.5, width: 274, height: 33 },
    { left: 565, top: 26.3, width: 43, height: 160.7 },
    { left: 40, top: 275, width: 273, height: 14 },
    { left: 40, top: 290.7, width: 273, height: 167.6 },
    { left: 3, top: 290.7, width: 37, height: 167.6 },
    { left: 14, top: 478, width: 194.6, height: 199 },
    { left: 213, top: 478, width: 198, height: 200 },
    { left: 433, top: 492, width: 251.5, height: 185, show: true, borderColor: '#d9d9d9', borderWidth: 0.6 }
  ],
  xAxis: xAxes,
  yAxis: yAxes,
  visualMap: [{ type: 'continuous', show: false, seriesIndex: heatSeriesIndex, min: -6, max: 6,
    inRange: { color: ['#0000FF', '#FFFFFF', '#FF0000'] } }],
  series: series,
  graphic: { elements: G }
};

var chart = echarts.init(document.getElementById('chart'));
chart.setOption(option);
</script>
</body>
</html>
